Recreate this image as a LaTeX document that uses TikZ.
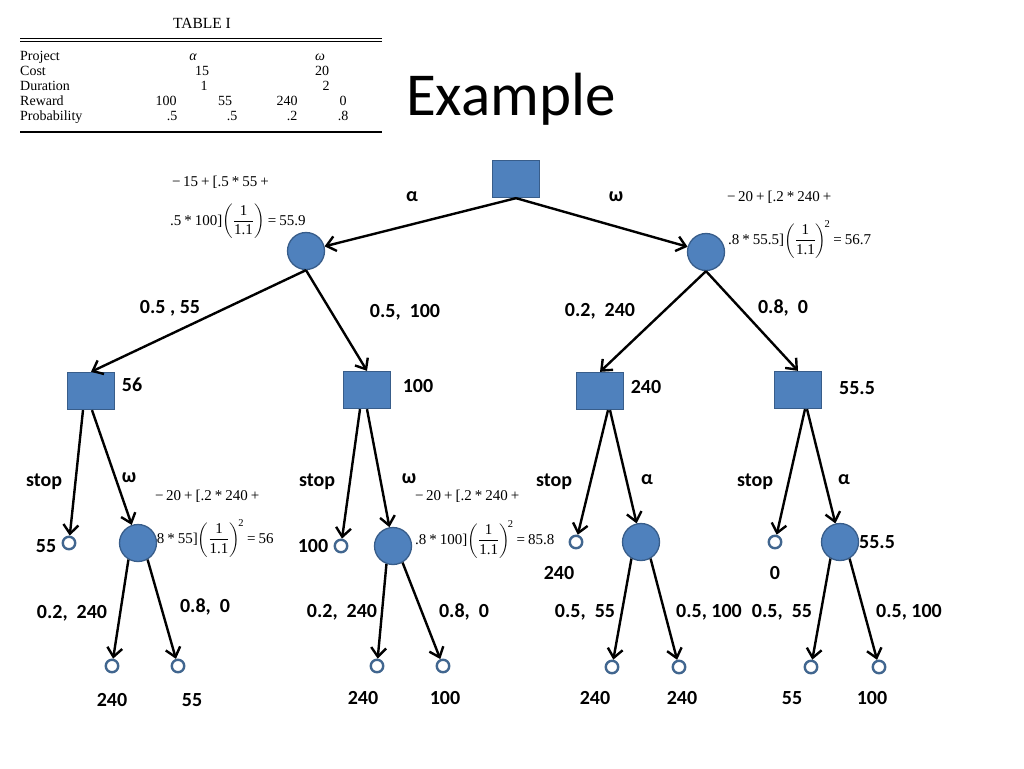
\documentclass[tikz,border=0pt]{standalone}
\usepackage{amsmath}
\usepackage{fontspec}
\setmainfont{Liberation Serif}
\newfontfamily\lab{Carlito}
\usetikzlibrary{arrows.meta}
\definecolor{nodefill}{HTML}{4F81BD}
\definecolor{nodeline}{HTML}{385D8A}
\definecolor{leafline}{HTML}{41668F}
\newcommand\bop[1]{\hspace{0.2em}#1\hspace{0.2em}}
\newcommand\invfrac{$\left(\dfrac{\rule{0pt}{11pt}\text{1}}{\text{1.1}\rule[-5pt]{0pt}{5pt}}\right)$}
\newcommand\invfracsq{$\left(\dfrac{\rule{0pt}{11pt}\text{1}}{\text{1.1}\rule[-5pt]{0pt}{5pt}}\right)^{\!\text{2}}$}
\tikzset{
 decision/.style={rectangle, draw=nodeline, line width=1.3pt, fill=nodefill, minimum width=47pt, minimum height=37pt, inner sep=0},
 chance/.style={circle, draw=nodeline, line width=1.3pt, fill=nodefill, minimum size=37pt, inner sep=0},
 leaf/.style={circle, draw=leafline, line width=2.4pt, fill=white, minimum size=12.5pt, inner sep=0},
 conn/.style={line width=2.4pt, -{Straight Barb[length=9pt,width=15pt]}},
 lbl/.style={font=\lab\bfseries\fontsize{20}{24}\selectfont, inner sep=0},
 frm/.style={font=\fontsize{15}{18}\selectfont, inner sep=0, anchor=west},
 tab/.style={font=\fontsize{14}{16}\selectfont, inner sep=0, anchor=base west},
 tabc/.style={font=\fontsize{14}{16}\selectfont, inner sep=0, anchor=base},
}
\begin{document}
\begin{tikzpicture}[x=1pt,y=-1pt]
\fill[white] (0,0) rectangle (1024,768);
\useasboundingbox (0,0) rectangle (1024,768);
% ---------- table ----------
\node[font=\fontsize{15.5}{18}\selectfont, inner sep=0] (ttl) at (202,23) {TABLE I};
\draw[line width=0.8pt] (20,38.5) -- (382,38.5);
\draw[line width=0.8pt] (20,41.5) -- (382,41.5);
\draw[line width=1.1pt] (20,132) -- (382,132);
\node[tab] (r1) at (20,60) {Project};
\node[tab] (r2) at (20,75) {Cost};
\node[tab] (r3) at (20,90) {Duration};
\node[tab] (r4) at (20,105) {Reward};
\node[tab] (r5) at (20,120) {Probability};
\node[tabc] (pa) at (193,60) {\itshape α};
\node[tabc] (pw) at (320,60) {\itshape ω};
\node[tabc] (ca) at (202,75) {15};
\node[tabc] (cw) at (322,75) {20};
\node[tabc] (da) at (204,90) {1};
\node[tabc] (dw) at (326,90) {2};
\node[tabc] (w1) at (166,105) {100};
\node[tabc] (w2) at (225,105) {55};
\node[tabc] (w3) at (287,105) {240};
\node[tabc] (w4) at (343,105) {0};
\node[tabc] (q1) at (172,120) {.5};
\node[tabc] (q2) at (232,120) {.5};
\node[tabc] (q3) at (292,120) {.2};
\node[tabc] (q4) at (343,120) {.8};
% ---------- title ----------
\node[font=\lab\fontsize{61}{72}\selectfont, anchor=base west, inner sep=0] (title) at (406,115) {Example};
% ---------- formulas ----------
\node[frm] (f1a) at (172,182) {−\,15\bop{+}[.5\bop{*}55\bop{+}};
\node[frm] (f1b) at (170,222) {.5\bop{*}100]\invfrac\bop{=}55.9};
\node[frm] (f2a) at (727,197) {−\,20\bop{+}[.2\bop{*}240\bop{+}};
\node[frm] (f2b) at (728,240) {.8\bop{*}55.5]\invfracsq\bop{=}56.7};
\node[frm] (f3a) at (155,496) {−\,20\bop{+}[.2\bop{*}240\bop{+}};
\node[frm] (f3b) at (153,539) {.8\bop{*}55]\invfracsq\bop{=}56};
\node[frm] (f4a) at (415,496) {−\,20\bop{+}[.2\bop{*}240\bop{+}};
\node[frm] (f4b) at (415,540) {.8\bop{*}100]\invfracsq\bop{=}85.8};
% ---------- nodes ----------
\node[decision] (root) at (516,179) {};
\node[chance] (aC) at (306,251) {};
\node[chance] (wC) at (706,252) {};
\node[decision] (A) at (91,391) {};
\node[decision] (B) at (367,390) {};
\node[decision] (C) at (600,391) {};
\node[decision] (D) at (798,390) {};
\node[leaf] (s1) at (69,543) {};
\node[leaf] (s2) at (341,546) {};
\node[leaf] (s3) at (576,542) {};
\node[leaf] (s4) at (775,542) {};
\node[chance] (c1) at (138,543) {};
\node[chance] (c2) at (393,546) {};
\node[chance] (c3) at (641,542) {};
\node[chance] (c4) at (840,542) {};
\node[leaf] (l1) at (112,666) {};
\node[leaf] (l2) at (178,666) {};
\node[leaf] (l3) at (377,666) {};
\node[leaf] (l4) at (443,666) {};
\node[leaf] (l5) at (612,667) {};
\node[leaf] (l6) at (679,667) {};
\node[leaf] (l7) at (811,667) {};
\node[leaf] (l8) at (879,667) {};
% ---------- connectors ----------
\draw[conn] (root.south) -- (aC);
\draw[conn] (root.south) -- (wC);
\draw[conn] (aC.south) -- (A.north);
\draw[conn] (aC.south) -- (B.north);
\draw[conn] (wC.south) -- (C.north);
\draw[conn] (wC.south) -- (D.north);
\draw[conn] ([xshift=-8pt]A.south) -- (s1);
\draw[conn] ([xshift=1pt]A.south) -- (c1);
\draw[conn] ([xshift=-7pt]B.south) -- (s2);
\draw[conn] ([xshift=0pt]B.south) -- (c2);
\draw[conn] ([xshift=8pt]C.south) -- (s3);
\draw[conn] ([xshift=10pt]C.south) -- (c3);
\draw[conn] ([xshift=7pt]D.south) -- (s4);
\draw[conn] ([xshift=9pt]D.south) -- (c4);
\draw[conn] (c1.240) -- (l1);
\draw[conn] (c1.300) -- (l2);
\draw[conn] (c2.250) -- (l3);
\draw[conn] (c2.300) -- (l4);
\draw[conn] (c3.240) -- (l5);
\draw[conn] (c3.300) -- (l6);
\draw[conn] (c4.240) -- (l7);
\draw[conn] (c4.300) -- (l8);
% ---------- labels ----------
\node[lbl] (ta) at (412,197) {α};
\node[lbl] (tw) at (616,197) {ω};
\node[lbl] (e1) at (170,308) {0.5 , 55};
\node[lbl] (e2) at (405,312) {0.5,\ \ 100};
\node[lbl] (e3) at (600,311) {0.2,\ \ 240};
\node[lbl] (e4) at (783,308) {0.8,\ \ 0};
\node[lbl] (vA) at (132,385) {56};
\node[lbl] (vB) at (418,386) {100};
\node[lbl] (vC) at (646,387) {240};
\node[lbl] (vD) at (857,388) {55.5};
\node[lbl] (sa) at (44,482) {stop};
\node[lbl] (oa) at (129,478) {ω};
\node[lbl] (sb) at (317,482) {stop};
\node[lbl] (ob) at (409,479) {ω};
\node[lbl] (sc) at (554,482) {stop};
\node[lbl] (oc) at (647,480) {α};
\node[lbl] (sd) at (755,482) {stop};
\node[lbl] (od) at (844,480) {α};
\node[lbl] (vs1) at (46,546) {55};
\node[lbl] (vs2) at (313,546) {100};
\node[lbl] (vs3) at (559,573) {240};
\node[lbl] (vs4) at (775,573) {0};
\node[lbl] (vc4) at (877,542) {55.5};
\node[lbl] (g1) at (72,613) {0.2,\ \ 240};
\node[lbl] (g2) at (205,607) {0.8,\ \ 0};
\node[lbl] (g3) at (342,612) {0.2,\ \ 240};
\node[lbl] (g4) at (464,612) {0.8,\ \ 0};
\node[lbl] (g5) at (585,612) {0.5,\ \ 55};
\node[lbl] (g6) at (709,612) {0.5, 100};
\node[lbl] (g7) at (782,612) {0.5,\ \ 55};
\node[lbl] (g8) at (909,612) {0.5, 100};
\node[lbl] (v1) at (112,700) {240};
\node[lbl] (v2) at (192,700) {55};
\node[lbl] (v3) at (363,698) {240};
\node[lbl] (v4) at (445,698) {100};
\node[lbl] (v5) at (595,698) {240};
\node[lbl] (v6) at (682,698) {240};
\node[lbl] (v7) at (792,698) {55};
\node[lbl] (v8) at (872,698) {100};
\end{tikzpicture}
\end{document}
